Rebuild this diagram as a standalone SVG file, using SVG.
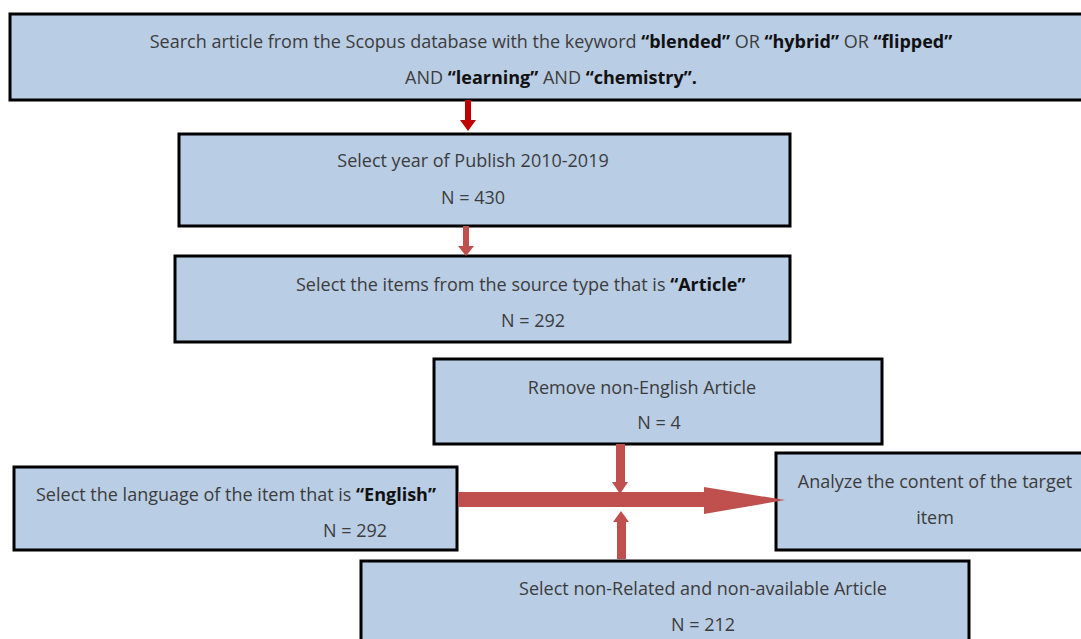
<svg xmlns="http://www.w3.org/2000/svg" width="1081" height="639" viewBox="0 0 1081 639">
<style>
.box{fill:#b9cde5;stroke:#000;stroke-width:3}
.t{font-family:"Open Sans","DejaVu Sans",sans-serif;font-size:18px;fill:#3c3c3c}
.b{font-weight:bold;fill:#111}
.m{text-anchor:middle}
</style>
<rect width="1081" height="639" fill="#fff"/>
<g id="n1">
<rect class="box" x="10" y="14" width="1085" height="86"/>
<text class="t m" x="551" y="48">Search article from the Scopus database with the keyword <tspan class="b">“blended”</tspan> OR <tspan class="b">“hybrid”</tspan> OR <tspan class="b">“flipped”</tspan></text>
<text class="t m" x="551" y="84">AND <tspan class="b">“learning”</tspan> AND <tspan class="b">“chemistry”.</tspan></text>
</g>
<g id="n2">
<rect class="box" x="179" y="134" width="611" height="92"/>
<text class="t m" x="473" y="167">Select year of Publish 2010-2019</text>
<text class="t m" x="473" y="204">N = 430</text>
</g>
<g id="n3">
<rect class="box" x="175" y="256" width="615" height="86"/>
<text class="t" x="296" y="291">Select the items from the source type that is <tspan class="b">“Article”</tspan></text>
<text class="t m" x="533" y="327">N = 292</text>
</g>
<g id="n4">
<rect class="box" x="434" y="359" width="448" height="85"/>
<text class="t m" x="642" y="394">Remove non-English Article</text>
<text class="t m" x="659" y="429">N = 4</text>
</g>
<g id="n5">
<rect class="box" x="14" y="467" width="443" height="83"/>
<text class="t" x="36" y="501">Select the language of the item that is <tspan class="b">“English”</tspan></text>
<text class="t m" x="355" y="537">N = 292</text>
</g>
<g id="n6">
<rect class="box" x="776" y="453" width="315" height="97"/>
<text class="t m" x="935" y="488">Analyze the content of the target</text>
<text class="t m" x="935" y="524">item</text>
</g>
<g id="n7">
<rect class="box" x="361" y="561" width="608" height="90"/>
<text class="t m" x="703" y="595">Select non-Related and non-available Article</text>
<text class="t m" x="703" y="631">N = 212</text>
</g>
<g id="connectors">
<polygon fill="#c00000" points="465,100 471,100 471,120 476,120 468,131 460,120 465,120"/>
<polygon fill="#c0504d" points="463,226 469,226 469,246 474,246 466,256 458,246 463,246"/>
<polygon fill="#c0504d" points="458,492 704,492 704,487 785,500 704,514 704,507 458,507"/>
<polygon fill="#c0504d" points="616,444 625,444 625,482 628,482 620,494 612,482 616,482"/>
<polygon fill="#c0504d" points="617,559 626,559 626,522 629,522 621,511 613,522 617,522"/>
</g>
</svg>
